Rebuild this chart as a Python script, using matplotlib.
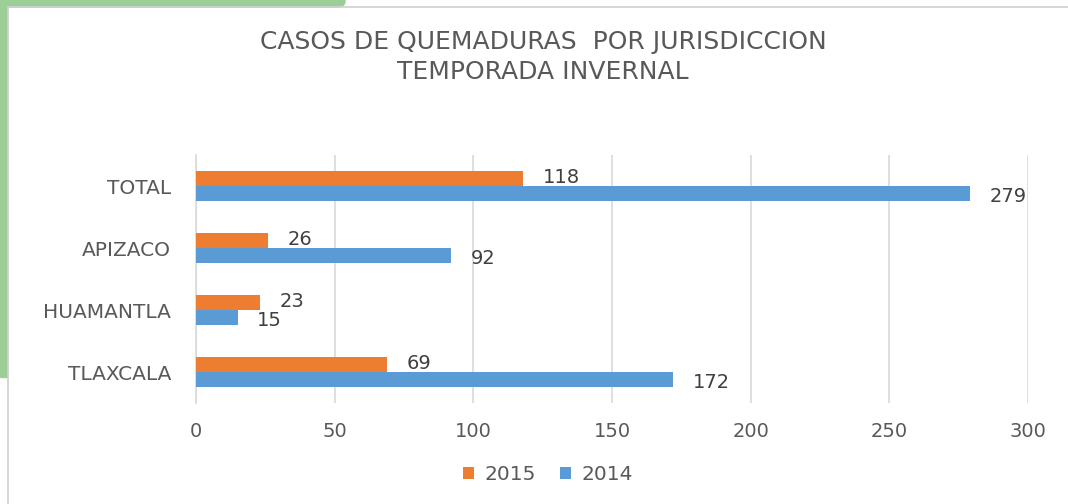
import matplotlib.pyplot as plt
from matplotlib.patches import Rectangle, FancyBboxPatch
import numpy as np

# Datos
jurisdicciones = ['TLAXCALA', 'HUAMANTLA', 'APIZACO', 'TOTAL']
casos_2015 = [69, 23, 26, 118]
casos_2014 = [172, 15, 92, 279]

plt.rcParams['font.family'] = ['DejaVu Sans']

fig = plt.figure(figsize=(10.68, 5.04), dpi=100)

# Decoracion verde en la esquina
W, H = 1068, 504
verde = '#9ccf98'
fig.patches.append(FancyBboxPatch((-20 / W, 1 - 7 / H), 365 / W, 30 / H,
                                  boxstyle='round,pad=0,rounding_size=0.01',
                                  transform=fig.transFigure, color=verde, zorder=0))
fig.patches.append(Rectangle((0, 1 - 377 / H), 7 / W, 377 / H,
                             transform=fig.transFigure, color=verde, zorder=0))
fig.patches.append(Rectangle((7.5 / W, -0.1), 1.2, 1 - 7.5 / H + 0.1,
                             transform=fig.transFigure, fill=False,
                             edgecolor='#d0d0d0', linewidth=1.2, zorder=1))

ax = fig.add_axes([196 / W, 1 - 403 / H, 832 / W, 248 / H])

y = np.arange(len(jurisdicciones))
h = 0.245
ax.barh(y + h / 2, casos_2015, height=h, color='#ed7d31', label='2015', zorder=3)
ax.barh(y - h / 2, casos_2014, height=h, color='#5b9bd5', label='2014', zorder=3)

for i in range(len(jurisdicciones)):
    ax.annotate(str(casos_2015[i]), (casos_2015[i], y[i] + h / 2), xytext=(14, 1),
                textcoords='offset points', va='center', ha='left',
                fontsize=14, color='#404040')
    ax.annotate(str(casos_2014[i]), (casos_2014[i], y[i] - h / 2), xytext=(14, -2),
                textcoords='offset points', va='center', ha='left',
                fontsize=14, color='#404040')

ax.set_xlim(0, 300)
ax.set_ylim(-0.5, 3.5)
ax.set_xticks(range(0, 301, 50))
ax.set_yticks(y)
ax.set_yticklabels(jurisdicciones)
ax.tick_params(axis='x', length=0, pad=14, labelsize=14, labelcolor='#595959')
ax.tick_params(axis='y', length=0, pad=18, labelsize=14.5, labelcolor='#595959')
ax.grid(axis='x', color='#d9d9d9', linewidth=1.2, zorder=0)
for s in ['top', 'right', 'bottom']:
    ax.spines[s].set_visible(False)
ax.spines['left'].set_color('#d9d9d9')
ax.spines['left'].set_linewidth(1.2)

fig.text(543 / W, 1 - 57 / H, 'CASOS DE QUEMADURAS  POR JURISDICCION\nTEMPORADA INVERNAL',
         ha='center', va='center', fontsize=18, color='#595959', linespacing=1.28)

ax.legend(loc='center', bbox_to_anchor=(548 / W, 1 - 475 / H), bbox_transform=fig.transFigure,
          ncol=2, frameon=False, fontsize=14.5, labelcolor='#595959',
          handlelength=0.55, handleheight=0.55, handletextpad=0.5, columnspacing=1.2)

fig.savefig('out.png', dpi=100)
